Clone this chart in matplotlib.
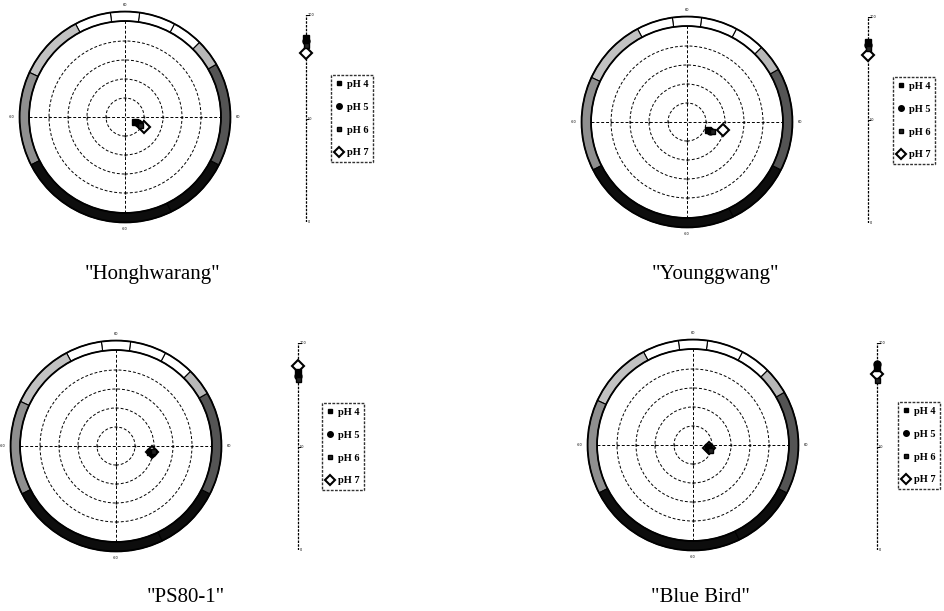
import matplotlib
matplotlib.use("Agg")
import matplotlib.pyplot as plt
from matplotlib.patches import Wedge, Circle
import numpy as np

# ---------------- data ----------------
cultivars = ['"Honghwarang"', '"Younggwang"', '"PS80-1"', '"Blue Bird"']
ph_labels = ["pH 4", "pH 5", "pH 6", "pH 7"]

# a* values per cultivar (pH 4..7)
a_honghwarang = [5.5, 6.8, 8.0, 10.0]
a_younggwang = [11.0, 12.2, 13.2, 19.0]
a_ps80 = [18.0, 18.8, 19.5, 19.0]
a_bluebird = [8.0, 8.5, 9.0, 8.5]
# b* values
b_honghwarang = [-2.5, -3.3, -4.2, -5.5]
b_younggwang = [-4.0, -4.5, -4.8, -4.3]
b_ps80 = [-3.0, -3.5, -2.8, -3.0]
b_bluebird = [-1.0, -2.0, -2.8, -1.5]
# L* values
L_honghwarang = [89.0, 87.5, 85.5, 81.5]
L_younggwang = [88.0, 86.5, 85.0, 81.5]
L_ps80 = [86.0, 84.0, 82.5, 89.0]
L_bluebird = [88.0, 90.0, 82.0, 85.0]

a_vals = [a_honghwarang, a_younggwang, a_ps80, a_bluebird]
b_vals = [b_honghwarang, b_younggwang, b_ps80, b_bluebird]
L_vals = [L_honghwarang, L_younggwang, L_ps80, L_bluebird]

circle_radii = [10, 20, 30, 40]
axis_tick_labels = ["60", "-60"]

# ---------------- layout / style ----------------
W, H = 944, 611
fig = plt.figure(figsize=(W / 100, H / 100), dpi=100)
fig.patch.set_facecolor("white")

def fbox(x0, y0, x1, y1):
    return [x0 / W, 1 - y1 / H, (x1 - x0) / W, (y1 - y0) / H]

centers = [(125, 117), (687, 122), (116, 446), (693, 445)]
pxu = 1.9       # pixels per CIELAB unit
LIM = 62
lbar = [(306, 15, 222), (868, 17, 223), (298, 343, 550), (877, 343, 550)]
legbox = [(331, 75), (893, 77), (322, 403), (898, 402)]
titles_xy = [(153, 275), (715, 275), (186, 597), (700, 597)]

# ring segments: (start deg, end deg, gray)
ring = [(45, 62, 1.0), (62, 82, 1.0), (82, 98, 1.0), (98, 118, 1.0),
        (118, 155, 0.76), (155, 207, 0.56), (207, 296, 0.05),
        (296, 333, 0.05), (333, 390, 0.33), (390, 405, 0.72)]

markers = [dict(marker="s", ms=4.0, mfc="black", mec="black"),
           dict(marker="o", ms=5.0, mfc="black", mec="black"),
           dict(marker="s", ms=3.6, mfc="#222222", mec="black"),
           dict(marker="D", ms=6.0, mfc="white", mec="black", mew=1.5)]
zorders = [7, 8, 9, 6]

serif = ["Liberation Serif", "DejaVu Serif"]

for i in range(4):
    cx, cy = centers[i]
    half = LIM * pxu
    ax = fig.add_axes(fbox(cx - half, cy - half, cx + half, cy + half))
    ax.set_xlim(-LIM, LIM)
    ax.set_ylim(-LIM, LIM)
    ax.set_aspect("equal")
    ax.axis("off")

    # ring
    for (t0, t1, g) in ring:
        ax.add_patch(Wedge((0, 0), 55.5, t0, t1, width=5.0,
                           facecolor=(g, g, g), edgecolor="black", lw=0.8))
    ax.add_patch(Circle((0, 0), 55.5, fill=False, ec="black", lw=1.3))
    ax.add_patch(Circle((0, 0), 50.5, fill=False, ec="black", lw=1.3))

    # concentric circles
    for r in circle_radii:
        ax.add_patch(Circle((0, 0), r, fill=False, ec="black", lw=0.7,
                            ls=(0, (3, 2))))
    # crosshair
    ax.plot([-50.5, 50.5], [0, 0], color="black", lw=0.7, ls=(0, (3, 2)))
    ax.plot([0, 0], [-50.5, 50.5], color="black", lw=0.7, ls=(0, (3, 2)))
    for r in circle_radii:
        ax.plot([r, -r, 0, 0], [0, 0, r, -r], ls="none", marker="|",
                ms=2, color="black")
    ax.text(0, 59, axis_tick_labels[0], fontsize=2.5, ha="center", va="center")
    ax.text(0, -59, axis_tick_labels[1], fontsize=2.5, ha="center", va="center")
    ax.text(59.5, 0, axis_tick_labels[0], fontsize=2.5, ha="center", va="center")
    ax.text(-59.5, 0, axis_tick_labels[1], fontsize=2.5, ha="center", va="center")

    # data points
    handles = []
    for k in range(4):
        h, = ax.plot(a_vals[i][k], b_vals[i][k], ls="none", label=ph_labels[k],
                     zorder=zorders[k], **markers[k])
        handles.append(h)

    # L* bar
    bx, by0, by1 = lbar[i]
    lax = fig.add_axes(fbox(bx - 10, by0, bx + 10, by1))
    lax.set_xlim(-1, 1)
    lax.set_ylim(0, 100)
    lax.axis("off")
    lax.plot([0, 0], [0, 100], color="black", lw=0.9, ls=(0, (2, 1)))
    lax.plot([0, 0.25], [100, 100], color="black", lw=0.8)
    for yv, lab in [(100, "100"), (50, "50"), (0, "0")]:
        lax.plot([0, 0.15], [yv, yv], color="black", lw=0.7)
        lax.text(0.2, yv, lab, fontsize=2.5, va="center", ha="left")
    for k in range(4):
        lax.plot(0, L_vals[i][k], ls="none", zorder=zorders[k], **markers[k])

    # legend
    lx, ly = legbox[i]
    leg = fig.legend(handles=handles, loc="upper left",
                     bbox_to_anchor=(lx / W, 1 - ly / H),
                     prop={"family": serif, "size": 7.5, "weight": "bold"},
                     frameon=True, fancybox=False, borderpad=0.45,
                     labelspacing=1.3, handlelength=0.6, handletextpad=0.45,
                     borderaxespad=0.0, markerscale=0.8)
    fr = leg.get_frame()
    fr.set_edgecolor("black")
    fr.set_linewidth(1.0)
    fr.set_linestyle((0, (2, 1)))

    tx, ty = titles_xy[i]
    fig.text(tx / W, 1 - ty / H, cultivars[i], family=serif, fontsize=15,
             ha="center", va="center")

fig.savefig("out.png", dpi=100, facecolor="white")
